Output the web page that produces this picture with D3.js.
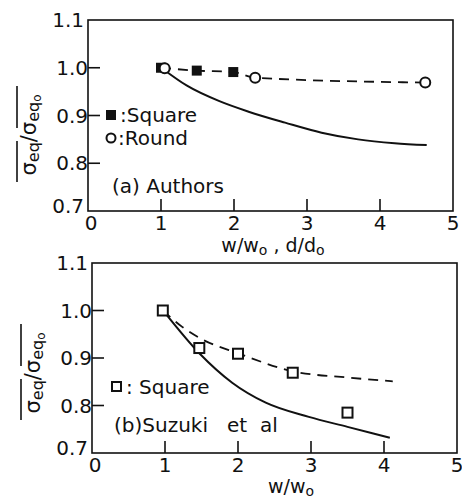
<!DOCTYPE html>
<html>
<head>
<meta charset="utf-8">
<script src="https://cdn.jsdelivr.net/npm/d3@7"></script>
<style>
  body { margin: 0; background: #fff; }
  text { font-family: "DejaVu Sans", sans-serif; fill: #111; }
</style>
</head>
<body>
<div id="chart"></div>
<script>
// panel (a) Authors
const aSquareX = [1.0, 1.49, 1.99];
const aSquareY = [1.0, 0.994, 0.991];
const aRoundX = [1.05, 2.29, 4.62];
const aRoundY = [0.999, 0.979, 0.969];
const aDashX = [1.0, 1.49, 1.99, 2.29, 4.62];
const aDashY = [1.0, 0.994, 0.991, 0.979, 0.969];
const aSolidX = [1.03, 1.35, 1.8, 2.2, 2.7, 3.2, 3.7, 4.2, 4.64];
const aSolidY = [0.997, 0.963, 0.93, 0.908, 0.885, 0.864, 0.85, 0.842, 0.838];

// panel (b) Suzuki et al
const bSquareX = [0.97, 1.47, 2.0, 2.75, 3.5];
const bSquareY = [1.0, 0.921, 0.909, 0.869, 0.785];
const bDashX = [0.97, 1.24, 1.5, 2.0, 2.75, 3.5, 4.12];
const bDashY = [1.0, 0.965, 0.94, 0.91, 0.872, 0.859, 0.851];
const bSolidX = [1.0, 1.47, 1.92, 2.38, 2.97, 3.5, 4.08];
const bSolidY = [0.995, 0.91, 0.848, 0.806, 0.776, 0.755, 0.732];

const xTicks = [0, 1, 2, 3, 4, 5];
const yTicks = [0.7, 0.8, 0.9, 1.0, 1.1];

const W = 462, H = 500;
const svg = d3.select("#chart").append("svg")
    .attr("width", W).attr("height", H);

const zip = (xs, ys) => xs.map((x, i) => [x, ys[i]]);

function drawPanel(p) {
    const x = d3.scaleLinear().domain([0, 5]).range([p.left, p.left + 365]);
    const y = d3.scaleLinear().domain([0.7, 1.1]).range([p.bottom, p.top]);
    const g = svg.append("g");

    // frame
    g.append("rect")
        .attr("x", p.left).attr("y", p.top)
        .attr("width", x(5) - p.left).attr("height", p.bottom - p.top)
        .attr("fill", "none").attr("stroke", "#111").attr("stroke-width", 1.6);

    // inside ticks
    g.selectAll("line.xt").data(xTicks.filter(d => d > 0 && d < 5)).join("line")
        .attr("x1", d => x(d)).attr("x2", d => x(d))
        .attr("y1", p.bottom).attr("y2", p.bottom - 12)
        .attr("stroke", "#111").attr("stroke-width", 1.6);
    g.selectAll("line.yt").data(yTicks.filter(d => d > 0.7 && d < 1.1)).join("line")
        .attr("x1", p.left).attr("x2", p.left + 12)
        .attr("y1", d => y(d)).attr("y2", d => y(d))
        .attr("stroke", "#111").attr("stroke-width", 1.6);

    // tick labels
    g.selectAll("text.xl").data(xTicks).join("text")
        .attr("x", d => x(d) + (d === 0 ? 3 : 0)).attr("y", p.bottom + 19)
        .attr("text-anchor", "middle")
        .style("font-size", "20px")
        .text(d => d);
    g.selectAll("text.yl").data(yTicks).join("text")
        .attr("x", d => p.left - (d === 0.7 || d === 1.1 ? 4 : 0))
        .attr("y", d => y(d) + (d === 0.7 ? 2 : 7))
        .attr("text-anchor", "end")
        .style("font-size", "20px")
        .text(d => d3.format(".1f")(d));

    // y axis label, rotated with overlines
    const yl = g.append("g")
        .attr("transform", `translate(${p.labX},${p.labY}) rotate(-90)`);
    const t = yl.append("text").attr("text-anchor", "middle").style("font-size", "21px");
    t.append("tspan").text("σ");
    t.append("tspan").attr("dy", 3).style("font-size", "16px").text("eq");
    t.append("tspan").attr("dy", -3).text("/σ");
    t.append("tspan").attr("dy", 3).style("font-size", "16px").text("eq");
    t.append("tspan").attr("dy", 2).style("font-size", "12px").text("o");
    yl.append("line").attr("x1", -47).attr("x2", -6).attr("y1", -19).attr("y2", -19)
        .attr("stroke", "#111").attr("stroke-width", 1.6);
    yl.append("line").attr("x1", 7).attr("x2", 49).attr("y1", -19).attr("y2", -19)
        .attr("stroke", "#111").attr("stroke-width", 1.6);

    // x axis label
    const xl = g.append("text").attr("x", p.xlabX).attr("y", p.xlabY)
        .attr("text-anchor", "middle").style("font-size", "19px");
    p.xlab.forEach(s => {
        if (s.sub) xl.append("tspan").attr("dy", 3).style("font-size", "14px").text(s.t);
        else xl.append("tspan").attr("dy", s.back ? -3 : 0).text(s.t);
    });

    const curve = d3.line().x(d => x(d[0])).y(d => y(d[1])).curve(d3.curveMonotoneX);

    g.append("path").attr("d", curve(zip(p.dashX, p.dashY)))
        .attr("fill", "none").attr("stroke", "#111").attr("stroke-width", 1.8)
        .attr("stroke-dasharray", "10,7");
    g.append("path").attr("d", curve(zip(p.solidX, p.solidY)))
        .attr("fill", "none").attr("stroke", "#111").attr("stroke-width", 2);

    return {x, y, g};
}

// ---- panel (a)
const a = drawPanel({
    left: 88, top: 20, bottom: 211, labX: 36, labY: 135,
    dashX: aDashX, dashY: aDashY, solidX: aSolidX, solidY: aSolidY,
    xlabX: 273, xlabY: 252,
    xlab: [{t: "w/w"}, {t: "o", sub: true}, {t: " , d/d", back: true}, {t: "o", sub: true}]
});
a.g.selectAll("rect.sq").data(zip(aSquareX, aSquareY)).join("rect")
    .attr("x", d => a.x(d[0]) - 5).attr("y", d => a.y(d[1]) - 5)
    .attr("width", 10).attr("height", 10).attr("fill", "#111");
a.g.selectAll("circle.rd").data(zip(aRoundX, aRoundY)).join("circle")
    .attr("cx", d => a.x(d[0])).attr("cy", d => a.y(d[1])).attr("r", 5)
    .attr("fill", "#fff").attr("stroke", "#111").attr("stroke-width", 2);
// legend
a.g.append("rect").attr("x", 106).attr("y", 110).attr("width", 10).attr("height", 10).attr("fill", "#111");
a.g.append("text").attr("x", 120).attr("y", 122).style("font-size", "20px").text(":Square");
a.g.append("circle").attr("cx", 111).attr("cy", 138).attr("r", 4.5)
    .attr("fill", "#fff").attr("stroke", "#111").attr("stroke-width", 2);
a.g.append("text").attr("x", 118).attr("y", 145).style("font-size", "20px").text(":Round");
a.g.append("text").attr("x", 112).attr("y", 193).style("font-size", "20px").text("(a) Authors");

// ---- panel (b)
const b = drawPanel({
    left: 92, top: 263, bottom: 453, labX: 40, labY: 373,
    dashX: bDashX, dashY: bDashY, solidX: bSolidX, solidY: bSolidY,
    xlabX: 291, xlabY: 493,
    xlab: [{t: "w/w"}, {t: "o", sub: true}]
});
b.g.selectAll("rect.sq").data(zip(bSquareX, bSquareY)).join("rect")
    .attr("x", d => b.x(d[0]) - 5).attr("y", d => b.y(d[1]) - 5)
    .attr("width", 10).attr("height", 10)
    .attr("fill", "#fff").attr("stroke", "#111").attr("stroke-width", 2);
b.g.append("rect").attr("x", 112).attr("y", 382).attr("width", 9).attr("height", 9)
    .attr("fill", "#fff").attr("stroke", "#111").attr("stroke-width", 2);
b.g.append("text").attr("x", 126).attr("y", 394).style("font-size", "20px").text(": Square");
b.g.append("text").attr("x", 114).attr("y", 432).style("font-size", "20px")
    .style("white-space", "pre").text("(b)Suzuki   et  al");
</script>
</body>
</html>
